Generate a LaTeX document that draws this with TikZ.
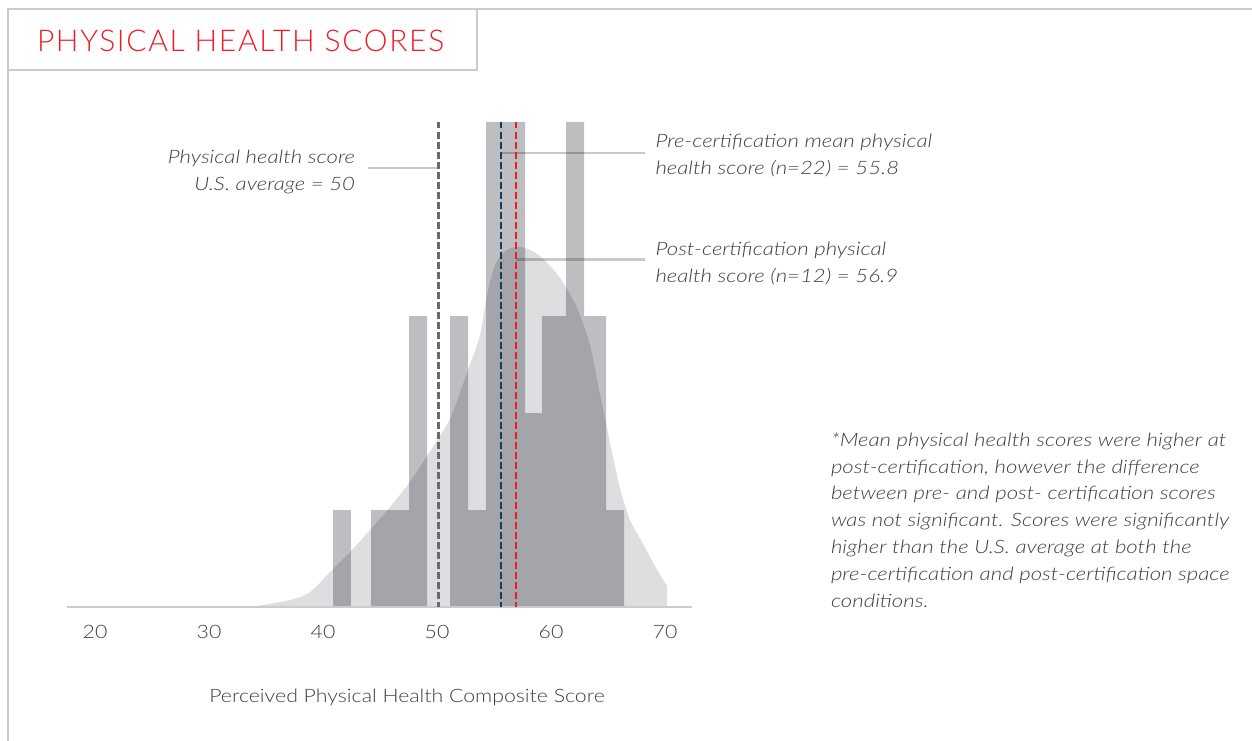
\documentclass[tikz,border=0pt]{standalone}
\usepackage{fontspec}
\setmainfont{Lato Light}[ItalicFont={Lato Light Italic}]
\newfontfamily\notefont{Lato Light Italic}[FakeStretch=1.2]
\newfontfamily\axfont{Lato Light}[FakeStretch=1.15]
\newfontfamily\ttlfont{Lato Light}[LetterSpace=5.5]
\definecolor{framegray}{RGB}{203,203,203}
\definecolor{txtgray}{RGB}{62,62,64}
\definecolor{curvegray}{RGB}{221,222,224}
\definecolor{bartint}{RGB}{0,2,18}
\definecolor{avggray}{RGB}{105,106,110}
\definecolor{preblue}{RGB}{22,62,92}
\definecolor{postred}{RGB}{237,28,36}
\definecolor{titlered}{RGB}{240,30,36}
\tikzset{
  every node/.style={inner sep=0pt, outer sep=0pt},
  frameline/.style={draw=framegray, line width=2.2pt},
  titletext/.style={text=titlered, font=\ttlfont\fontsize{30}{36}\selectfont},
  note/.style={text=txtgray, font=\notefont\fontsize{18.5}{26.8}\selectfont},
  ticklbl/.style={text=txtgray, font=\axfont\fontsize{18.5}{22}\selectfont},
  axtitle/.style={text=txtgray, font=\axfont\fontsize{18.5}{22}\selectfont},
  barfill/.style={fill=bartint, fill opacity=0.26, draw=none},
  curvefill/.style={fill=curvegray, draw=none},
  meanline/.style={line width=2.2pt, dash pattern=on 6.5pt off 3.5pt},
  leader/.style={draw=black, draw opacity=0.21, line width=2.4pt},
  axisline/.style={draw=framegray, line width=2pt}
}
\begin{document}
\begin{tikzpicture}[x=1pt,y=-1pt]
\useasboundingbox (0,0) rectangle (1252,741);
% frame and title box
\draw[frameline] (8,741) -- (8,9) -- (1252,9);
\draw[frameline] (8,70) -- (477,70) -- (477,9);
\node[titletext, anchor=base west] (title) at (37,51.7) {PHYSICAL HEALTH SCORES};

% density curve
\fill[curvefill] plot[smooth, tension=0.55] coordinates {
 (250,607) (290,600) (310,592) (333,569) (351,551) (371,529) (390,507)
 (409,483) (427,456) (440,436) (452,414) (468,370) (480,335) (486,300)
 (494,268) (504,252) (516,247) (528,249) (541,257) (560,278) (577,308)
 (590,345) (598,385) (605,418) (613,457) (621,492) (630,520) (642,542)
 (655,566) (667,586)} -- (667,607) -- cycle;

% histogram bars
\fill[barfill] (333,607) -- (333,510) -- (351,510) -- (351,607) -- cycle;
\fill[barfill] (371,607) -- (371,510) -- (409,510) -- (409,316) -- (427,316) -- (427,607) -- cycle;
\fill[barfill] (450,607) -- (450,316) -- (468,316) -- (468,510) -- (486,510) -- (486,122)
  -- (525,122) -- (525,413) -- (542,413) -- (542,316) -- (566,316) -- (566,122)
  -- (584,122) -- (584,316) -- (606,316) -- (606,510) -- (624,510) -- (624,607) -- cycle;

% axis
\coordinate (axL) at (67,607);
\coordinate (axR) at (692,607);
\draw[axisline] (axL) -- (axR);
\foreach \v/\x in {20/95,30/209,40/323,50/437,60/551,70/665}
  \node[ticklbl, anchor=base] (t\v) at (\x,638) {\v};
\node[axtitle, anchor=base] (axt) at (407,702) {Perceived Physical Health Composite Score};

% leader lines
\coordinate (usA) at (368,168);
\coordinate (usB) at (438,168);
\coordinate (preA) at (501,153);
\coordinate (preB) at (645,153);
\coordinate (postA) at (516,259.5);
\coordinate (postB) at (645,259.5);
\draw[leader] (usA) -- (usB);
\draw[leader] (preA) -- (preB);
\draw[leader] (postA) -- (postB);

% mean lines
\coordinate (usT) at (438.5,122);
\coordinate (usBot) at (438.5,607);
\coordinate (preT) at (501,122);
\coordinate (preBot) at (501,607);
\coordinate (postT) at (516,122);
\coordinate (postBot) at (516,607);
\draw[meanline, avggray] (usT) -- (usBot);
\draw[meanline, preblue] (preT) -- (preBot);
\draw[meanline, postred] (postT) -- (postBot);

% labels (base anchor = baseline of the last line)
\node[note, anchor=base east, align=right] (uslbl) at (355,190) {Physical health score\\U.S. average = 50};
\node[note, anchor=base west, align=left] (prelbl) at (655.5,174) {Pre-certification mean physical\\health score (n=22) = 55.8};
\node[note, anchor=base west, align=left] (postlbl) at (655.5,282) {Post-certification physical\\health score (n=12) = 56.9};
\node[note, anchor=base west, align=left] (foot) at (831,607) {*Mean physical health scores were higher at\\post-certification, however the difference\\between pre- and post- certification scores\\was not significant. Scores were significantly\\higher than the U.S. average at both the\\pre-certification and post-certification space\\conditions.};
\end{tikzpicture}
\end{document}
